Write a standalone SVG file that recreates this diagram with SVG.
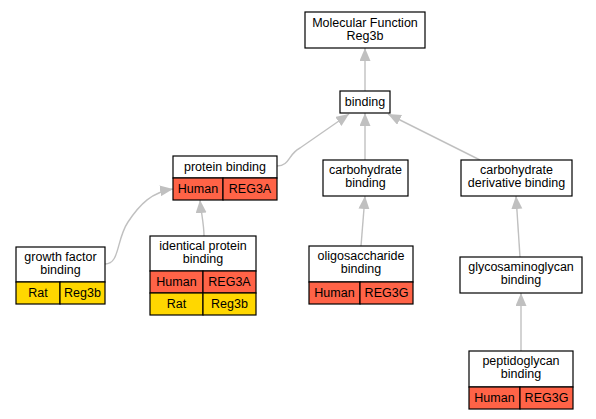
<svg xmlns="http://www.w3.org/2000/svg" width="596" height="419" viewBox="0 0 596 419">
<defs>
<marker id="arr" markerUnits="userSpaceOnUse" markerWidth="14" markerHeight="12" refX="13" refY="5.5" orient="auto">
<path d="M0,0 L13,5.5 L0,11 z" fill="#c0c0c0"/>
</marker>
<style>
.box{fill:#fff;stroke:#000;stroke-width:1.2}
.red{fill:#ff6347;stroke:#000;stroke-width:1.2}
.yel{fill:#ffd700;stroke:#000;stroke-width:1.2}
text{font-family:"Liberation Sans",Arial,sans-serif;font-size:12.5px;fill:#000;text-anchor:middle}
.edge{fill:none;stroke:#c0c0c0;stroke-width:1.4;marker-end:url(#arr)}
</style>
</defs>
<rect width="596" height="419" fill="#fff"/>
<g id="edges">
<path class="edge" d="M365,91 L365,48"/>
<path class="edge" d="M365,160 L365,113"/>
<path class="edge" d="M480,160 L388,114"/>
<path class="edge" d="M277,166 C290,166 288,154 300,148 L349,114"/>
<path class="edge" d="M105,264 C120,264 116,240 128,222 C140,204 152,192 173,189"/>
<path class="edge" d="M204,236 C204,224 201,212 200,200"/>
<path class="edge" d="M361,246 L365,196"/>
<path class="edge" d="M520,257 L516,196"/>
<path class="edge" d="M521,351 L521,293"/>
</g>
<g id="mf">
<rect class="box" x="305" y="12" width="120" height="36"/>
<text x="365" y="26.5">Molecular Function</text>
<text x="365" y="39.5">Reg3b</text>
</g>
<g id="binding">
<rect class="box" x="340" y="91" width="50" height="22"/>
<text x="365" y="106">binding</text>
</g>
<g id="protein_binding">
<rect class="box" x="173" y="156" width="104" height="22"/>
<rect class="red" x="173" y="178" width="50" height="22"/>
<rect class="red" x="223" y="178" width="54" height="22"/>
<text x="225" y="171">protein binding</text>
<text x="198" y="193">Human</text>
<text x="250" y="193">REG3A</text>
</g>
<g id="carbohydrate_binding">
<rect class="box" x="323" y="160" width="85" height="36"/>
<text x="365.5" y="174">carbohydrate</text>
<text x="365.5" y="187">binding</text>
</g>
<g id="carbohydrate_derivative_binding">
<rect class="box" x="461" y="160" width="111" height="36"/>
<text x="516.5" y="174">carbohydrate</text>
<text x="516.5" y="187">derivative binding</text>
</g>
<g id="growth_factor_binding">
<rect class="box" x="16" y="247" width="89" height="35"/>
<rect class="yel" x="16" y="282" width="44" height="22"/>
<rect class="yel" x="60" y="282" width="45" height="22"/>
<text x="60.5" y="261">growth factor</text>
<text x="60.5" y="274">binding</text>
<text x="38" y="297">Rat</text>
<text x="82.5" y="297">Reg3b</text>
</g>
<g id="identical_protein_binding">
<rect class="box" x="150" y="236" width="106" height="35"/>
<rect class="red" x="150" y="271" width="53" height="22"/>
<rect class="red" x="203" y="271" width="53" height="22"/>
<rect class="yel" x="150" y="293" width="53" height="22"/>
<rect class="yel" x="203" y="293" width="53" height="22"/>
<text x="203" y="250">identical protein</text>
<text x="203" y="263">binding</text>
<text x="176.5" y="286">Human</text>
<text x="229.5" y="286">REG3A</text>
<text x="176.5" y="308">Rat</text>
<text x="229.5" y="308">Reg3b</text>
</g>
<g id="oligosaccharide_binding">
<rect class="box" x="309" y="246" width="104" height="36"/>
<rect class="red" x="309" y="282" width="51" height="22"/>
<rect class="red" x="360" y="282" width="53" height="22"/>
<text x="361" y="260">oligosaccharide</text>
<text x="361" y="273">binding</text>
<text x="334.5" y="297">Human</text>
<text x="386.5" y="297">REG3G</text>
</g>
<g id="glycosaminoglycan_binding">
<rect class="box" x="460" y="257" width="122" height="36"/>
<text x="521" y="271">glycosaminoglycan</text>
<text x="521" y="284">binding</text>
</g>
<g id="peptidoglycan_binding">
<rect class="box" x="469" y="351" width="104" height="36"/>
<rect class="red" x="469" y="387" width="51" height="22"/>
<rect class="red" x="520" y="387" width="53" height="22"/>
<text x="521" y="365">peptidoglycan</text>
<text x="521" y="378">binding</text>
<text x="494.5" y="402">Human</text>
<text x="546.5" y="402">REG3G</text>
</g>
</svg>
